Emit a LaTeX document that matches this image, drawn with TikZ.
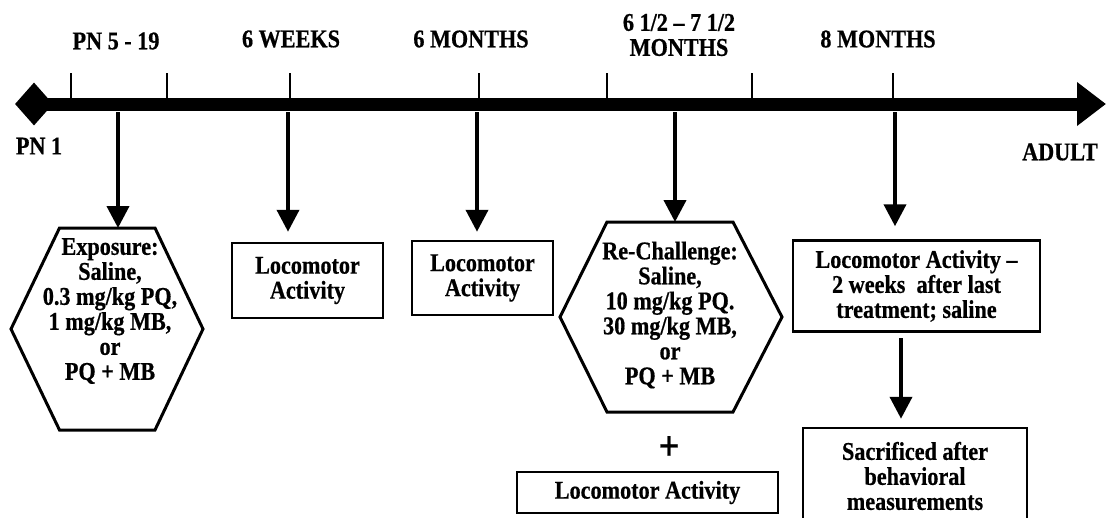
\documentclass[tikz,border=0pt]{standalone}
\usepackage{fontspec}
\setmainfont{Liberation Serif}[FakeStretch=0.87, BoldFeatures={FakeBold=0.6}]
\usetikzlibrary{arrows.meta,calc,shapes.geometric}
\begin{document}
\begin{tikzpicture}[x=1pt,y=-1pt,
  lbl/.style={font=\fontsize{25.5}{25}\selectfont\bfseries, inner sep=0pt, align=center},
  boxnode/.style={lbl, draw, line width=2.5pt},
  hexline/.style={line width=3pt, line join=miter},
  tickline/.style={line width=2.5pt},
  downarrow/.style={line width=4pt, -{Triangle[width=22pt,length=22pt]}},
]
\useasboundingbox (0,0) rectangle (1106,517);

% timeline
\node[diamond, fill, minimum width=38pt, minimum height=43pt, inner sep=0pt] (start) at (34,104) {};
\coordinate (tlend) at (1106,104);
\draw[line width=13pt, -{Triangle[width=42pt,length=29pt]}] (start.center) -- (tlend);
\foreach \x in {71,167,290,479,607,752,893} \draw[tickline] (\x,73) -- (\x,100);

% time labels
\node[lbl] (t1) at (116,41) {PN 5 - 19};
\node[lbl] (t2) at (291,39) {6 WEEKS};
\node[lbl] (t3) at (471,39) {6 MONTHS};
\node[lbl] (t4) at (679,35) {6 1/2 -- 7 1/2\\MONTHS};
\node[lbl] (t5) at (878,39) {8 MONTHS};
\node[lbl] (pn1) at (39,146) {PN 1};
\node[lbl] (adult) at (1060,152) {ADULT};

% hexagon 1
\draw[hexline] (11,329) -- (59.5,228) -- (155,228) -- (203,329) -- (155,430) -- (59.5,430) -- cycle;
\node[lbl] (hexA) at (110,311) {Exposure:\\Saline,\\0.3 mg/kg PQ,\\1 mg/kg MB,\\or\\PQ + MB};
\coordinate (hexAtop) at (118,228);

% hexagon 2
\draw[hexline] (560,317) -- (607,222) -- (733,222) -- (782,317) -- (733,412) -- (607,412) -- cycle;
\node[lbl] (hexB) at (670,315) {Re-Challenge:\\Saline,\\10 mg/kg PQ.\\30 mg/kg MB,\\or\\PQ + MB};
\coordinate (hexBtop) at (675,222);

% boxes
\node[boxnode, minimum width=151pt, minimum height=75pt] (wk) at (307.5,280.5) {Locomotor\\Activity};
\node[boxnode, minimum width=141pt, minimum height=74pt] (mo) at (482.5,278) {Locomotor\\Activity};
\node[boxnode, minimum width=247pt, minimum height=91pt] (eight) at (916.5,286) {Locomotor Activity --\\2 weeks\ \ after last\\treatment; saline};
\node[boxnode, minimum width=224pt, minimum height=96pt] (sacr) at (915,476) {Sacrificed after\\behavioral\\measurements};
\node[boxnode, minimum width=261pt, minimum height=41pt] (loco) at (647.5,492.5) {Locomotor Activity};
\node[lbl, font=\fontsize{42}{42}\selectfont\bfseries] (plus) at (669,448) {+};

% arrows from timeline
\coordinate (b1) at (118,112);
\coordinate (b2) at (288,112);
\coordinate (b3) at (477,112);
\coordinate (b4) at (675,112);
\coordinate (b5) at (895,112);
\draw[downarrow] (b1) -- (hexAtop);
\draw[downarrow, shorten >=10pt] (b2) -- (b2 |- wk.north);
\draw[downarrow, shorten >=8pt] (b3) -- (b3 |- mo.north);
\draw[downarrow] (b4) -- (hexBtop);
\draw[downarrow, shorten >=13pt] (b5) -- (b5 |- eight.north);
\coordinate (c6) at (901,331);
\draw[downarrow, shorten <=7pt, shorten >=8pt] (c6) -- (c6 |- sacr.north);
\end{tikzpicture}
\end{document}
